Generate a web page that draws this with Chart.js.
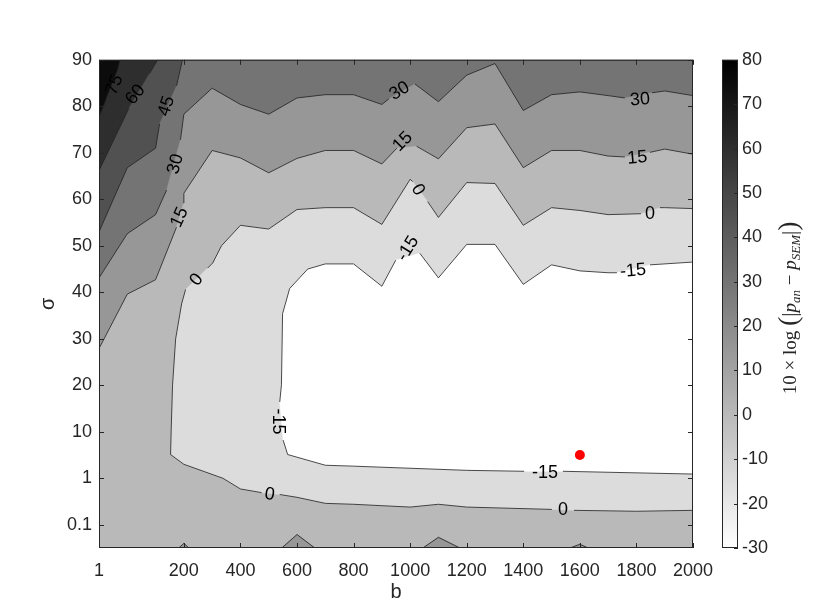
<!DOCTYPE html>
<html>
<head>
<meta charset="utf-8">
<script src="https://cdn.jsdelivr.net/npm/chart.js@4.4.1/dist/chart.umd.min.js"></script>
<style>
  html, body { margin: 0; padding: 0; background: #fff; }
</style>
</head>
<body>
<canvas id="contourChart" width="830" height="616"></canvas>
<script>
// Filled contour of 10*log|p_an - p_SEM| over b and sigma, drawn with Chart.js

// Grid is plotted against column / row index, ticks carry the real values
const X_TICK_POS = [0, 3, 5, 7, 9, 11, 13, 15, 17, 19, 21];
const X_TICK_LABELS = ['1', '200', '400', '600', '800', '1000', '1200', '1400', '1600', '1800', '2000'];
const Y_TICK_POS = [0, 1, 2, 3, 4, 5, 6, 7, 8, 9, 10];
const Y_TICK_LABELS = ['0.1', '1', '10', '20', '30', '40', '50', '60', '70', '80', '90'];
const CB_TICKS = [-30, -20, -10, 0, 10, 20, 30, 40, 50, 60, 70, 80];

// Contour lines, [column, row] vertices; null = gap where the level label sits
const LINE_M15 = [[21, 5.65], [19.48, 5.59], null, [18.31, 5.42], [18, 5.42], [17, 5.46], [16, 5.59], [15, 5.17],
  [14, 6.03], [13, 6.03], [12, 5.31], [11.34, 5.84], null, [10.49, 5.69], [10, 5.13], [9, 5.61], [8, 5.61],
  [7.38, 5.5], [6.74, 5.08], [6.49, 4.54], [6.45, 3.01], [6.39, 2.64], null, [6.51, 1.82], [6.67, 1.51],
  [8, 1.28], [9, 1.26], [13, 1.17], [15.03, 1.15], null, [16.4, 1.15], [21, 1.09]];
const LINE_0 = [[21, 6.8], [20, 6.82], [19.83, 6.82], null, [19.16, 6.69], [18, 6.67], [17, 6.76], [16, 6.82],
  [15, 6.44], [14, 7.34], [13, 7.36], [12, 6.61], [11.62, 6.95], null, [11.09, 7.38], [11, 7.43], [10, 6.46],
  [9, 6.82], [8, 6.82], [7, 6.78], [6, 6.36], [5, 6.44], [4.33, 6.0], [4.02, 5.63], [3.84, 5.52], null,
  [3.06, 5.06], [2.92, 4.75], [2.71, 4.0], [2.6, 3.0], [2.55, 2.0], [2.53, 1.51], [3, 1.3], [4.38, 1.0],
  [5, 0.77], [5.75, 0.69], null, [6.39, 0.65], [7, 0.59], [8, 0.46], [9, 0.44], [10, 0.41], [11, 0.38],
  [12, 0.44], [13, 0.38], [16.01, 0.33], null, [16.79, 0.31], [19, 0.29], [21, 0.31]];
const LINE_15 = [[0, 3.79], [1, 4.96], [2, 5.27], [2.74, 6.4], null, [2.99, 6.92], [3, 7.13], [4, 8.05],
  [5, 7.89], [6, 7.57], [7, 7.88], [8, 8.05], [9, 8.05], [10, 7.76], [10.53, 8.1], null, [11.23, 8.14],
  [12, 7.87], [13, 8.54], [14, 8.62], [15, 7.68], [16, 8.05], [17, 8.05], [18, 7.93], [18.59, 7.91], null,
  [19.48, 8.01], [20, 8.08], [21, 7.97]];
const LINE_30 = [[0, 5.31], [1, 6.26], [2, 6.67], [2.39, 7.2], null, [2.88, 8.28], [3, 8.83], [4, 9.39],
  [5, 9.04], [6, 8.83], [7, 9.18], [8, 9.25], [9, 9.25], [10, 9.04], [10.25, 9.16], null, [11.17, 9.48],
  [12, 9.1], [13, 9.67], [14, 9.92], [15, 8.91], [16, 9.25], [17, 9.31], [18, 9.23], [18.59, 9.18], null,
  [19.55, 9.29], [20, 9.33], [21, 9.23]];
const LINE_45 = [[2.95, 10], [2.74, 9.44], null, [2.14, 8.62], [2, 8.1], [1, 7.68], [0, 6.3]];
const LINE_60 = [[2.07, 10], [1.79, 9.71], null, [1.05, 8.95], [0, 7.62]];
const LINE_75 = [[0.74, 10], [0.65, 9.77], null, [0.23, 9.12], [0, 8.77]];

// small pockets above 15 sitting on the bottom edge
const ISLANDS_15 = [
  [[2.82, -0.5], [3, -0.4], [3.18, -0.5]],
  [[6.46, -0.5], [7, -0.21], [7.63, -0.5]],
  [[11.45, -0.5], [12, -0.27], [12.76, -0.5]],
  [[16.65, -0.5], [17, -0.42], [17.3, -0.5]]
];

// inline level labels: [level, column, row, angle in degrees]
const CONTOUR_LABELS = [
  [75, 0.55, 9.46, -68], [60, 1.29, 9.25, -52], [45, 2.39, 9.0, -72], [30, 2.71, 7.76, -75],
  [15, 2.85, 6.61, -65], [0, 3.45, 5.27, -52], [-15, 6.32, 2.22, 90], [0, 6.03, 0.65, 8],
  [-15, 15.77, 1.11, 0], [0, 16.4, 0.31, 0], [-15, 10.92, 5.94, -58], [0, 11.27, 7.2, 58],
  [15, 10.74, 8.24, -45], [30, 10.63, 9.33, -32], [30, 19.13, 9.14, -5], [15, 19.03, 7.89, -5],
  [0, 19.48, 6.69, 0], [-15, 18.88, 5.46, -5]
];

const MARKER = [17, 1.5];

const X_MIN = 0, X_MAX = 21, Y_MIN = -0.5, Y_MAX = 10;
const CB_MIN = -30, CB_MAX = 80;
const FONT = '"Liberation Sans", Arial, Helvetica, sans-serif';
const AXIS_COLOR = '#262626';

// flipped gray colormap
function grayFor(level) {
  const v = Math.round(255 * (1 - (level - CB_MIN) / (CB_MAX - CB_MIN)));
  return `rgb(${v},${v},${v})`;
}

function toXY(points) {
  return points.map(p => p ? { x: p[0], y: p[1] } : { x: null, y: null });
}

const BL = [X_MIN, Y_MIN], BR = [X_MAX, Y_MIN], TR = [X_MAX, Y_MAX], TL = [X_MIN, Y_MAX];

// Build datasets in paint order (first = bottom)
const layers = [];

function addRegion(points, color) {
  layers.push({
    data: toXY(points),
    showLine: true,
    fill: 'shape',
    backgroundColor: color,
    borderColor: color,
    borderWidth: 0.5,
    pointRadius: 0,
    tension: 0
  });
}

function addLine(points) {
  layers.push({
    data: toXY(points),
    showLine: true,
    fill: false,
    borderColor: '#1c1c1c',
    borderWidth: 0.8,
    pointRadius: 0,
    tension: 0
  });
}

const solid = line => line.filter(Boolean);

addRegion([TL, TR, BR, BL], grayFor(75));
addRegion([...solid(LINE_75), BL, BR, TR], grayFor(60));
addRegion([...solid(LINE_60), BL, BR, TR], grayFor(45));
addRegion([...solid(LINE_45), BL, BR, TR], grayFor(30));
addRegion([...solid(LINE_30), BR, BL], grayFor(15));
addRegion([...solid(LINE_15), BR, BL], grayFor(0));
ISLANDS_15.forEach(isl => addRegion(isl, grayFor(15)));
addRegion(solid(LINE_0), grayFor(-15));
addRegion(solid(LINE_M15), grayFor(-30));

[LINE_75, LINE_60, LINE_45, LINE_30, LINE_15, LINE_0, LINE_M15].forEach(addLine);
ISLANDS_15.forEach(addLine);

layers.push({
  data: [{ x: MARKER[0], y: MARKER[1] }],
  pointRadius: 5,
  pointBackgroundColor: '#ff0000',
  pointBorderWidth: 0,
  showLine: false
});

// Chart.js paints higher order first
layers.forEach((ds, i) => { ds.order = layers.length - i; });

// Level labels along the lines
const contourLabels = {
  id: 'contourLabels',
  afterDatasetsDraw(chart) {
    const { ctx, scales: { x, y } } = chart;
    ctx.save();
    ctx.font = '18px ' + FONT;
    ctx.fillStyle = '#000';
    ctx.textAlign = 'center';
    ctx.textBaseline = 'middle';
    CONTOUR_LABELS.forEach(([level, cx, cy, rot]) => {
      ctx.save();
      ctx.translate(x.getPixelForValue(cx), y.getPixelForValue(cy));
      ctx.rotate(rot * Math.PI / 180);
      ctx.fillText(String(level), 0, 0);
      ctx.restore();
    });
    ctx.restore();
  }
};

// Box around the axes with inward ticks on all four sides
const axesFrame = {
  id: 'axesFrame',
  afterDatasetsDraw(chart) {
    const { ctx, chartArea: a, scales: { x, y } } = chart;
    const len = 5;
    ctx.save();
    ctx.strokeStyle = AXIS_COLOR;
    ctx.lineWidth = 1;
    ctx.beginPath();
    X_TICK_POS.forEach(v => {
      const px = Math.round(x.getPixelForValue(v)) + 0.5;
      ctx.moveTo(px, a.bottom); ctx.lineTo(px, a.bottom - len);
      ctx.moveTo(px, a.top); ctx.lineTo(px, a.top + len);
    });
    Y_TICK_POS.forEach(v => {
      const py = Math.round(y.getPixelForValue(v)) + 0.5;
      ctx.moveTo(a.left, py); ctx.lineTo(a.left + len, py);
      ctx.moveTo(a.right, py); ctx.lineTo(a.right - len, py);
    });
    ctx.stroke();
    ctx.strokeRect(a.left + 0.5, a.top + 0.5, a.right - a.left - 1, a.bottom - a.top - 1);
    ctx.restore();
  }
};

// Colour bar on the right, positioned by the 'cb' scale
const colorBar = {
  id: 'colorBar',
  afterDraw(chart) {
    const { ctx, scales: { cb } } = chart;
    const left = 722, right = 738;
    const top = cb.getPixelForValue(CB_MAX);
    const bottom = cb.getPixelForValue(CB_MIN);
    ctx.save();
    const grad = ctx.createLinearGradient(0, bottom, 0, top);
    grad.addColorStop(0, grayFor(CB_MIN));
    grad.addColorStop(1, grayFor(CB_MAX));
    ctx.fillStyle = grad;
    ctx.fillRect(left, top, right - left, bottom - top);
    ctx.strokeStyle = AXIS_COLOR;
    ctx.lineWidth = 1;
    ctx.strokeRect(left + 0.5, top + 0.5, right - left - 1, bottom - top - 1);
    ctx.beginPath();
    CB_TICKS.forEach(v => {
      const py = Math.round(cb.getPixelForValue(v)) + 0.5;
      ctx.moveTo(right, py); ctx.lineTo(right - 4, py);
    });
    ctx.stroke();

    // rotated math label: 10 x log(|p_an - p_SEM|)
    const serif = '"Liberation Serif", "DejaVu Serif", serif';
    const parts = [
      { t: '10 \u00d7 log ', f: '19px ' + serif, dy: 0 },
      { t: '(', f: '28px ' + serif, dy: 1 },
      { t: '|', f: '21px ' + serif, dy: 0 },
      { t: 'p', f: 'italic 19px ' + serif, dy: 0 },
      { t: 'an', f: 'italic 13px ' + serif, dy: 4 },
      { t: ' \u2212 ', f: '19px ' + serif, dy: 0 },
      { t: 'p', f: 'italic 19px ' + serif, dy: 0 },
      { t: 'SEM', f: 'italic 13px ' + serif, dy: 4 },
      { t: '|', f: '21px ' + serif, dy: 0 },
      { t: ')', f: '28px ' + serif, dy: 1 }
    ];
    let total = 0;
    parts.forEach(p => { ctx.font = p.f; p.w = ctx.measureText(p.t).width; total += p.w; });
    ctx.translate(790, (top + bottom) / 2 + 4);
    ctx.rotate(-Math.PI / 2);
    ctx.fillStyle = AXIS_COLOR;
    ctx.textBaseline = 'alphabetic';
    ctx.textAlign = 'left';
    let cx = -total / 2;
    parts.forEach(p => {
      ctx.font = p.f;
      ctx.fillText(p.t, cx, 6 + p.dy);
      cx += p.w;
    });
    ctx.restore();
  }
};

const tickFont = { family: FONT, size: 18 };

new Chart(document.getElementById('contourChart'), {
  type: 'scatter',
  data: { datasets: layers },
  plugins: [contourLabels, axesFrame, colorBar],
  options: {
    responsive: false,
    animation: false,
    layout: { padding: { top: 46, right: 0, bottom: 0, left: 0 } },
    plugins: {
      legend: { display: false },
      tooltip: { enabled: false }
    },
    scales: {
      x: {
        type: 'linear',
        min: X_MIN,
        max: X_MAX,
        afterBuildTicks: s => { s.ticks = X_TICK_POS.map(v => ({ value: v })); },
        afterFit: s => { s.height = 68; },
        grid: { display: false, drawTicks: false },
        border: { display: false },
        ticks: {
          autoSkip: false,
          maxRotation: 0,
          padding: 12,
          color: AXIS_COLOR,
          font: tickFont,
          callback: v => X_TICK_LABELS[X_TICK_POS.indexOf(v)]
        },
        title: {
          display: true,
          text: 'b',
          color: AXIS_COLOR,
          font: { family: FONT, size: 20 },
          padding: { top: 0, bottom: 12 }
        }
      },
      y: {
        type: 'linear',
        min: Y_MIN,
        max: Y_MAX,
        afterBuildTicks: s => { s.ticks = Y_TICK_POS.map(v => ({ value: v })); },
        afterFit: s => { s.width = 99; },
        grid: { display: false, drawTicks: false },
        border: { display: false },
        ticks: {
          autoSkip: false,
          padding: 7,
          color: AXIS_COLOR,
          font: tickFont,
          callback: v => Y_TICK_LABELS[Y_TICK_POS.indexOf(v)]
        },
        title: {
          display: true,
          text: '\u03c3',
          color: AXIS_COLOR,
          font: { family: FONT, size: 20 },
          padding: { top: 36, bottom: 0 }
        }
      },
      cb: {
        type: 'linear',
        position: 'right',
        min: CB_MIN,
        max: CB_MAX,
        afterBuildTicks: s => { s.ticks = CB_TICKS.map(v => ({ value: v })); },
        afterFit: s => { s.width = 137; },
        grid: { display: false, drawTicks: false },
        border: { display: false },
        ticks: {
          autoSkip: false,
          padding: 49,
          color: AXIS_COLOR,
          font: tickFont
        }
      }
    }
  }
});
</script>
</body>
</html>
